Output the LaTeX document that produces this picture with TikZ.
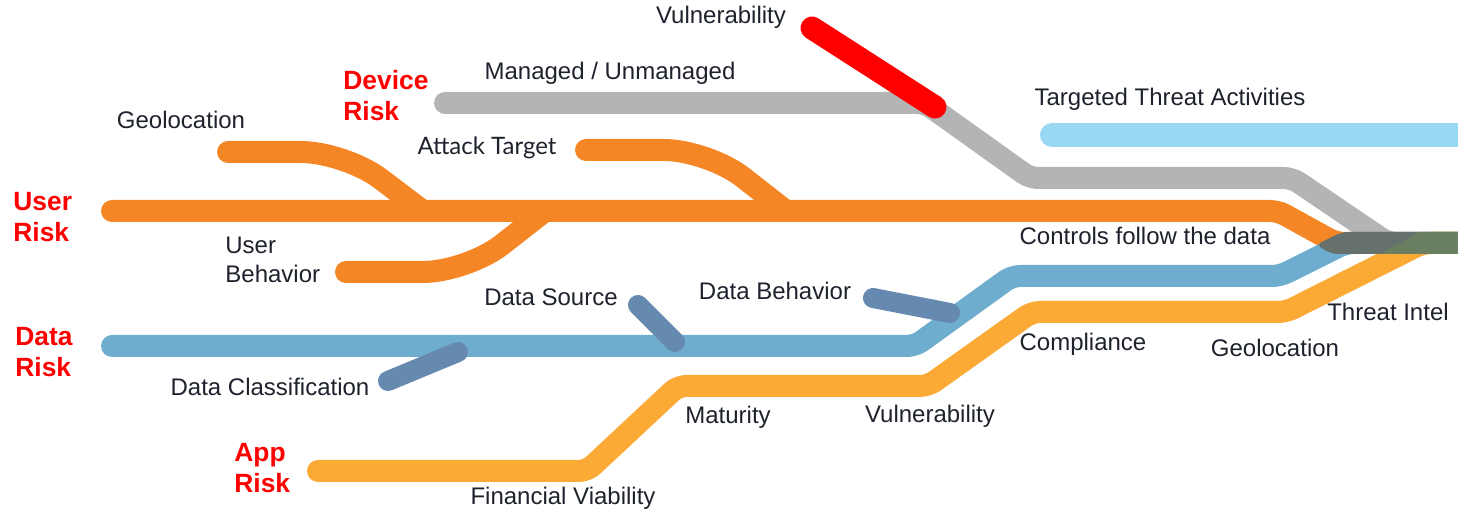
\documentclass[tikz,border=0pt]{standalone}
\usepackage{fontspec}
\setmainfont{Liberation Sans}
\newfontfamily\latofont{Lato}
\definecolor{userorange}{RGB}{244,134,38}
\definecolor{devicegray}{RGB}{179,180,179}
\definecolor{datablue}{RGB}{111,173,206}
\definecolor{tabblue}{RGB}{102,137,176}
\definecolor{appyellow}{RGB}{251,170,54}
\definecolor{threatblue}{RGB}{152,216,243}
\definecolor{bandgray}{RGB}{102,113,109}
\definecolor{bandgreen}{RGB}{106,127,98}
\definecolor{labeltext}{RGB}{30,34,44}
\begin{document}
\begin{tikzpicture}[x=0.5pt,y=-0.5pt,line cap=round,line join=round]
	\tikzstyle{lane}=[line width=11pt,rounded corners=4pt]
	\tikzstyle{branch}=[line width=11pt,draw=userorange,rounded corners=22pt]
	\tikzstyle{tab}=[line width=10pt,draw=tabblue]
	\tikzstyle{label}=[text=labeltext,inner sep=0pt,font=\fontsize{12}{14.5}\selectfont,align=left]
	\tikzstyle{risk}=[text=red,inner sep=0pt,font=\fontsize{13.2}{15.5}\selectfont\bfseries,align=left,anchor=west]

	\useasboundingbox (0,0) rectangle (1458,512);
	\clip (0,0) rectangle (1458,512);

	% lanes
	\draw[lane,draw=threatblue,line width=12pt] (1052,135) -- (1480,135);
	\draw[lane,draw=devicegray] (445,103) -- (925,103) -- (1030,178) -- (1292,178) -- (1388,243) -- (1480,243);
	\draw[lane,draw=red,line width=11.5pt] (812,28) -- (935,107);
	\draw[lane,draw=userorange] (112,211) -- (1278,211) -- (1336,243) -- (1480,243);
	\draw[branch] (228,152) -- (345,152) -- (423,211);
	\draw[branch] (346,272) -- (467,272) -- (545,211);
	\draw[branch] (586,150) -- (708,150) -- (786,211);
	\draw[lane,draw=datablue] (112,346) -- (915,346) -- (1012,276) -- (1280,276) -- (1346,243) -- (1480,243);
	\draw[lane,draw=appyellow] (318,471) -- (587,471) -- (678,386) -- (928,386) -- (1032,312) -- (1286,312) -- (1423,243) -- (1480,243);
	\draw[tab] (388,381) -- (458,352);
	\draw[tab] (638,305) -- (675,342);
	\draw[tab] (873,298) -- (950,313);

	% merged band
	\fill[bandgray,rounded corners=3pt] (1316,245) -- (1342,232) -- (1470,232) -- (1470,254) -- (1332,254) -- cycle;
	\fill[bandgreen] (1420,232) -- (1470,232) -- (1470,254) -- (1380,254) -- cycle;

	% risk names
	\node [risk] (user) at (13,217) {User\\Risk};
	\node [risk] (device) at (343,96) {Device\\Risk};
	\node [risk] (data) at (15,352) {Data\\Risk};
	\node [risk] (app) at (234,468) {App\\Risk};

	% factors
	\node [label] (vuln1) at (721,17) {Vulnerability};
	\node [label] (managed) at (610,73) {Managed / Unmanaged};
	\node [label] (targeted) at (1170,99) {Targeted Threat Activities};
	\node [label] (geo1) at (181,120) {Geolocation};
	\node [label,font=\latofont\fontsize{12}{14.5}\selectfont] (attack) at (487,148) {Attack Target};
	\node [label,anchor=west] (behavior) at (225,260) {User\\Behavior};
	\node [label] (controls) at (1145,236) {Controls follow the data};
	\node [label] (source) at (551,297) {Data Source};
	\node [label] (databeh) at (775,291) {Data Behavior};
	\node [label] (intel) at (1388,312) {Threat Intel};
	\node [label] (compliance) at (1083,344) {Compliance};
	\node [label] (geo2) at (1275,348) {Geolocation};
	\node [label] (classif) at (270,387) {Data Classification};
	\node [label] (maturity) at (728,417) {Maturity};
	\node [label] (vuln2) at (930,416) {Vulnerability};
	\node [label] (financial) at (563,498) {Financial Viability};

\end{tikzpicture}
\end{document}
